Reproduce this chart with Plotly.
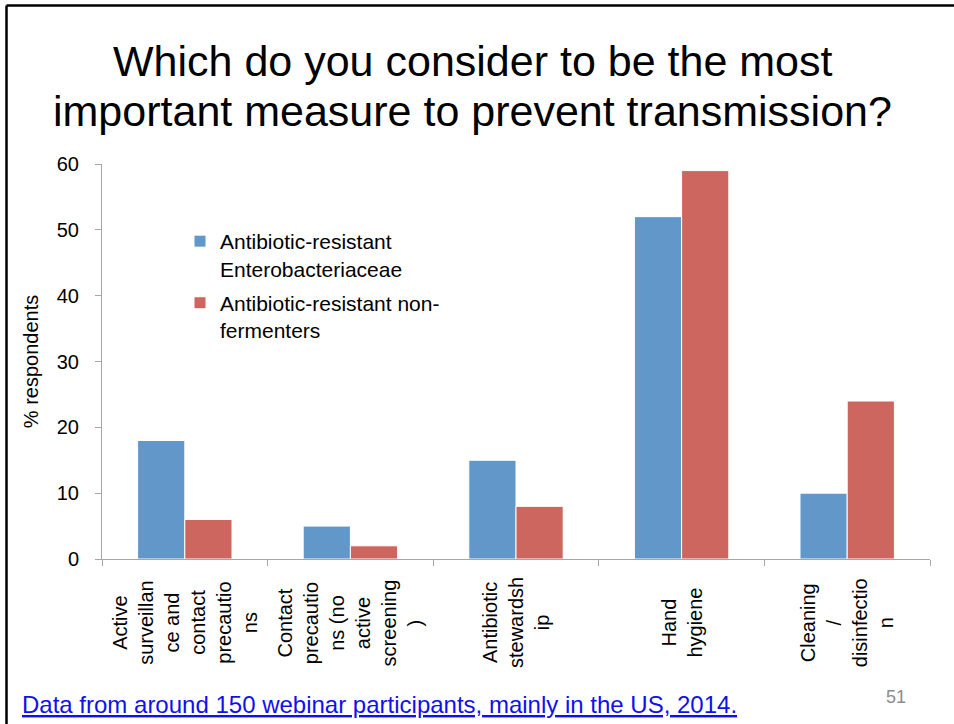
import plotly.graph_objects as go

# Survey categories (line breaks as in the original slide)
categories = [
    'Active<br>surveillan<br>ce and<br>contact<br>precautio<br>ns',
    'Contact<br>precautio<br>ns (no<br>active<br>screening<br>)',
    'Antibiotic<br>stewardsh<br>ip',
    'Hand<br>hygiene',
    'Cleaning<br>/<br>disinfectio<br>n',
]
cat_keys = ['active', 'contact', 'stewardship', 'hand', 'cleaning']

entero_pct = [18, 5, 15, 52, 10]
nonferm_pct = [6, 2, 8, 59, 24]

y_ticks = [0, 10, 20, 30, 40, 50, 60]

title_lines = ['Which do you consider to be the most',
               'important measure to prevent transmission?']
footnote = 'Data from around 150 webinar participants, mainly in the US, 2014.'
slide_no = '51'

FONT = 'Arial, Liberation Sans, sans-serif'
AXIS_GREY = '#a6a6a6'

# plot area in pixels (used to turn slide positions into paper coords)
L, R, T, B = 102, 930, 164, 559
W, H = R - L, B - T


def px(x):
    return (x - L) / W


def py(y):
    return (B - y) / H


fig = go.Figure()

fig.add_trace(go.Bar(
    x=cat_keys,
    y=entero_pct,
    name='Antibiotic-resistant<br>Enterobacteriaceae',
    legendgroup='a',
    marker=dict(color='#6197C9', line=dict(color='white', width=1)),
))
fig.add_trace(go.Bar(
    x=cat_keys,
    y=nonferm_pct,
    name='Antibiotic-resistant non-<br>fermenters',
    legendgroup='b',
    marker=dict(color='#CD665F', line=dict(color='white', width=1)),
))

# category labels: rotated, centred multi-line text under each group
for key, label in zip(cat_keys, categories):
    fig.add_annotation(
        x=key, xref='x', y=py(623), yref='paper',
        text=label, textangle=-90, showarrow=False,
        xanchor='center', yanchor='middle', align='center',
        font=dict(family=FONT, size=20, color='black'),
    )

# slide title, one annotation per line to keep the tight line spacing
for line, ymid in zip(title_lines, [61, 111]):
    fig.add_annotation(
        x=px(472), xref='paper', y=py(ymid), yref='paper',
        text=line, showarrow=False, xanchor='center', yanchor='middle',
        font=dict(family=FONT, size=43, color='black'),
    )

# footnote link and slide number
fig.add_annotation(
    x=px(20), xref='paper', y=py(704), yref='paper',
    text='<u>' + footnote + '</u>', showarrow=False,
    xanchor='left', yanchor='middle',
    font=dict(family=FONT, size=24, color='#1010EE'),
)
fig.add_annotation(
    x=px(896), xref='paper', y=py(697), yref='paper',
    text=slide_no, showarrow=False, xanchor='center', yanchor='middle',
    font=dict(family=FONT, size=18, color='#8c8c8c'),
)

fig.update_layout(
    width=954, height=724,
    paper_bgcolor='white', plot_bgcolor='white',
    margin=dict(l=L, r=954 - R, t=T, b=724 - B),
    font=dict(family=FONT, size=20, color='black'),
    barmode='group', bargap=0.43, bargroupgap=0,
    showlegend=True,
    legend=dict(
        x=px(180), y=py(221), xanchor='left', yanchor='top',
        bgcolor='rgba(0,0,0,0)', valign='top',
        font=dict(family=FONT, size=21, color='black'),
        tracegroupgap=4,
    ),
    xaxis=dict(
        type='category', showticklabels=False,
        showline=True, linecolor=AXIS_GREY, linewidth=1,
        ticks='outside', tickson='boundaries', ticklen=6, tickcolor=AXIS_GREY,
        showgrid=False, zeroline=False,
    ),
    yaxis=dict(
        range=[0, 60], tickvals=y_ticks,
        showline=True, linecolor=AXIS_GREY, linewidth=1,
        ticks='outside', ticklen=6, tickcolor=AXIS_GREY,
        ticklabelstandoff=12,
        showgrid=False, zeroline=False,
        title=dict(text='% respondents', standoff=12,
                   font=dict(family=FONT, size=20, color='black')),
        tickfont=dict(family=FONT, size=20, color='black'),
    ),
)

# slide frame (top and left edge)
fig.add_shape(type='line', xref='paper', yref='paper',
              x0=px(6.5), x1=px(960), y0=py(5.5), y1=py(5.5),
              line=dict(color='black', width=2.5))
fig.add_shape(type='line', xref='paper', yref='paper',
              x0=px(6.5), x1=px(6.5), y0=py(5.5), y1=py(730),
              line=dict(color='black', width=2.5))

fig.write_html('out.html', config={'displayModeBar': False},
               post_script="document.body.style.margin='0';")
